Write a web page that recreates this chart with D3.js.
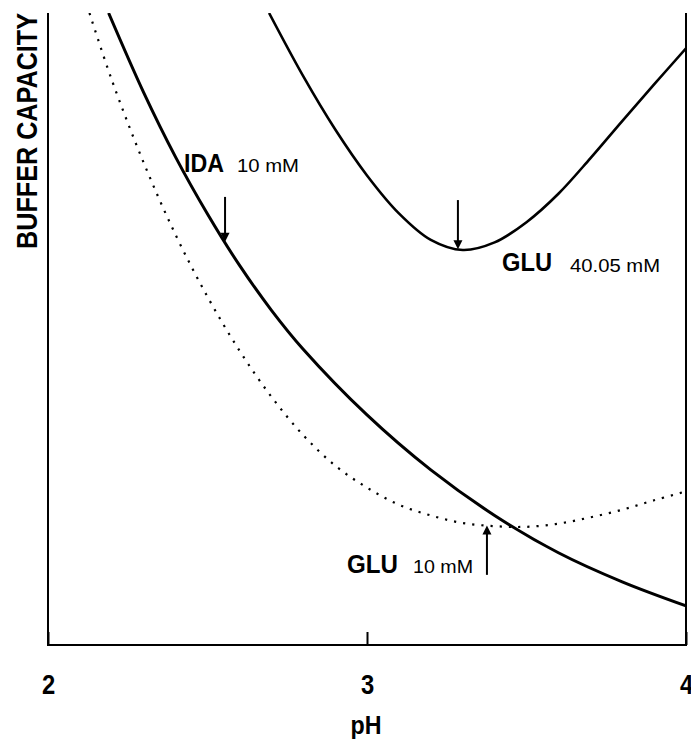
<!DOCTYPE html>
<html>
<head>
<meta charset="utf-8">
<script src="https://cdn.jsdelivr.net/npm/d3@7/dist/d3.min.js"></script>
<style>
  body { margin: 0; background: #fff; }
  svg { display: block; }
  text { fill: #000; }
</style>
</head>
<body>
<svg id="chart" width="691" height="743"></svg>
<script>
// pH values and buffer capacity (arbitrary units, axis has no scale)
var idaPH  = [2.19, 2.3, 2.4, 2.5, 2.6, 2.7, 2.8, 3.0, 3.2, 3.4, 3.6, 3.8, 4.0];
var idaVal = [100, 87.4, 77.2, 68.2, 60.1, 53.0, 46.8, 36.4, 27.7, 20.5, 14.6, 10.0, 6.2];

var glu40PH  = [2.693, 2.8, 2.9, 3.0, 3.1, 3.2, 3.3, 3.4, 3.5, 3.6, 3.7, 3.8, 3.9, 4.0];
var glu40Val = [100, 90.0, 81.6, 74.3, 68.3, 64.1, 62.5, 63.7, 66.9, 71.4, 77.0, 82.9, 88.7, 94.4];

var glu10PH  = [2.13, 2.2, 2.3, 2.4, 2.5, 2.6, 2.7, 2.8, 2.9, 3.0, 3.1, 3.2, 3.3, 3.4, 3.5, 3.6, 3.7, 3.8, 3.9, 4.0];
var glu10Val = [100, 89.4, 76.3, 64.9, 55.1, 46.6, 39.3, 33.2, 28.4, 24.9, 22.2, 20.5, 19.3, 18.8, 18.7, 19.2, 20.2, 21.4, 22.9, 24.3];

var xTicks = [2, 3, 4];
var xTickLabels = ['2', '3', '4'];

// arrows: pH, start value, tip value
var arrowPH   = [2.555, 3.285, 3.376];
var arrowFrom = [70.9, 70.4, 11.1];
var arrowTo   = [63.8, 62.6, 18.9];

var labelNames = ['IDA', 'GLU', 'GLU'];
var labelConc  = ['10 mM', '40.05 mM', '10 mM'];

var svg = d3.select('#chart');
// note: "top" is taken by window.top, so use a prefix
var mLeft = 48, mRight = 686, mTop = 13, mBottom = 645;

var x = d3.scaleLinear().domain([2, 4]).range([mLeft, mRight]);
var y = d3.scaleLinear().domain([0, 100]).range([mBottom, mTop]);

svg.append('clipPath').attr('id', 'plotclip')
    .append('rect')
    .attr('x', mLeft).attr('y', mTop)
    .attr('width', mRight - mLeft).attr('height', mBottom - mTop);

// frame: left, right, bottom (no top)
svg.append('path')
    .attr('d', 'M' + mLeft + ',' + mTop + 'V' + mBottom + 'H' + mRight + 'V' + mTop)
    .attr('fill', 'none')
    .attr('stroke', '#000')
    .attr('stroke-width', 2);

// x axis with inward tick at the middle
var xAxis = d3.axisBottom(x)
    .tickValues(xTicks)
    .tickFormat(function (d, i) { return xTickLabels[i]; })
    .tickSizeInner(-13)
    .tickSizeOuter(0);

var gx = svg.append('g')
    .attr('transform', 'translate(0,' + mBottom + ')')
    .call(xAxis);
gx.select('.domain').remove();
gx.selectAll('.tick line').attr('stroke', '#000').attr('stroke-width', 2);
// narrow the digits a little (text sits at the tick origin)
gx.selectAll('.tick text')
    .attr('y', 49)
    .attr('dy', 0)
    .attr('font-family', '"Liberation Sans", Arial, sans-serif')
    .attr('font-weight', 'bold')
    .attr('font-size', 28)
    .attr('transform', 'scale(0.85,1)');

svg.append('text')
    .attr('x', 366)
    .attr('y', 734)
    .attr('text-anchor', 'middle')
    .attr('font-family', '"Liberation Sans", Arial, sans-serif')
    .attr('font-weight', 'bold')
    .attr('font-size', 25)
    .attr('textLength', 31)
    .attr('lengthAdjust', 'spacingAndGlyphs')
    .text('pH');

svg.append('text')
    .attr('transform', 'translate(37,131) rotate(-90)')
    .attr('text-anchor', 'middle')
    .attr('font-family', '"Liberation Sans", Arial, sans-serif')
    .attr('font-weight', 'bold')
    .attr('font-size', 30)
    .attr('textLength', 236)
    .attr('lengthAdjust', 'spacingAndGlyphs')
    .text('BUFFER CAPACITY');

// curves
var line = d3.line()
    .x(function (d) { return x(d[0]); })
    .y(function (d) { return y(d[1]); })
    .curve(d3.curveCatmullRom.alpha(0.5));

var plot = svg.append('g').attr('clip-path', 'url(#plotclip)');

plot.append('path')
    .datum(d3.zip(glu10PH, glu10Val))
    .attr('d', line)
    .attr('fill', 'none')
    .attr('stroke', '#000')
    .attr('stroke-width', 2.2)
    .attr('stroke-dasharray', '2.2 7');

plot.append('path')
    .datum(d3.zip(idaPH, idaVal))
    .attr('d', line)
    .attr('fill', 'none')
    .attr('stroke', '#000')
    .attr('stroke-width', 3);

plot.append('path')
    .datum(d3.zip(glu40PH, glu40Val))
    .attr('d', line)
    .attr('fill', 'none')
    .attr('stroke', '#000')
    .attr('stroke-width', 2.6);

// arrows
arrowPH.forEach(function (p, i) {
    var ax = x(p), y0 = y(arrowFrom[i]), y1 = y(arrowTo[i]);
    var dir = y1 > y0 ? 1 : -1;
    svg.append('line')
        .attr('x1', ax).attr('x2', ax)
        .attr('y1', y0).attr('y2', y1 - dir * 4)
        .attr('stroke', '#000')
        .attr('stroke-width', 2);
    svg.append('path')
        .attr('d', 'M' + (ax - 4.5) + ',' + (y1 - dir * 9) +
            'L' + (ax + 4.5) + ',' + (y1 - dir * 9) +
            'L' + ax + ',' + y1 + 'Z')
        .attr('fill', '#000');
});

// labels
var nameFont = '"Liberation Sans", Arial, sans-serif';
var concFont = '"Liberation Sans", Arial, sans-serif';
var namePos = [[184, 172, 40], [502, 271, 50], [347, 573, 51]];
var concPos = [[237, 172, 62], [570, 272, 90], [413, 573, 60]];

labelNames.forEach(function (t, i) {
    svg.append('text')
        .attr('x', namePos[i][0]).attr('y', namePos[i][1])
        .attr('font-family', nameFont)
        .attr('font-weight', 'bold')
        .attr('font-size', 26)
        .attr('textLength', namePos[i][2])
        .attr('lengthAdjust', 'spacingAndGlyphs')
        .text(t);
    svg.append('text')
        .attr('x', concPos[i][0]).attr('y', concPos[i][1])
        .attr('font-family', concFont)
        .attr('font-size', 18)
        .attr('textLength', concPos[i][2])
        .attr('lengthAdjust', 'spacingAndGlyphs')
        .text(labelConc[i]);
});
</script>
</body>
</html>
